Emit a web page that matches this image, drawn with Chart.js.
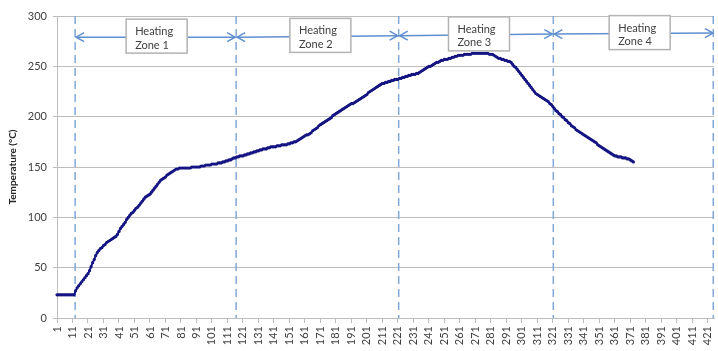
<!DOCTYPE html>
<html>
<head>
<meta charset="utf-8">
<script src="https://cdn.jsdelivr.net/npm/chart.js@4.4.1/dist/chart.umd.min.js"></script>
<style>
  body { margin: 0; background: #ffffff; }
</style>
</head>
<body>
<canvas id="lineChart" width="718" height="351"></canvas>
<script>
// x categories (sample number) and y tick values
const categories = Array.from({length: 425}, (_, i) => String(i + 1));
const yTicks = [0, 50, 100, 150, 200, 250, 300];

// temperature readings (°C)
const temperatures = [
  23, 23, 23, 23, 23, 23, 23, 23, 23, 23,
  23, 23, 27, 30, 32, 34, 36, 38, 40, 42,
  44, 47, 51, 55, 58, 62, 65, 67, 69, 70,
  72, 73, 75, 76, 77, 78, 79, 80, 81, 83,
  86, 89, 91, 93, 95, 98, 100, 102, 104, 105,
  107, 109, 110, 112, 114, 116, 118, 120, 121, 122,
  123, 125, 127, 129, 131, 133, 135, 137, 138, 139,
  140, 142, 143, 144, 145, 146, 147, 148, 148, 149,
  149, 149, 149, 149, 149, 149, 149, 150, 150, 150,
  150, 150, 150, 151, 151, 151, 152, 152, 152, 152,
  153, 153, 153, 153, 154, 154, 154, 155, 155, 156,
  156, 157, 157, 158, 159, 159, 160, 160, 161, 161,
  161, 162, 162, 163, 163, 164, 164, 165, 165, 166,
  166, 167, 167, 168, 168, 168, 169, 169, 170, 170,
  170, 170, 171, 171, 171, 172, 172, 172, 172, 173,
  173, 174, 174, 175, 175, 176, 177, 178, 179, 180,
  181, 182, 182, 183, 184, 186, 187, 188, 189, 191,
  192, 193, 194, 195, 196, 197, 198, 199, 201, 202,
  203, 204, 205, 206, 207, 208, 209, 210, 211, 212,
  213, 213, 214, 215, 216, 217, 218, 219, 220, 221,
  222, 224, 225, 226, 227, 228, 229, 230, 231, 232,
  233, 233, 234, 234, 235, 235, 236, 236, 237, 237,
  237, 238, 238, 239, 239, 240, 240, 241, 241, 242,
  242, 242, 243, 243, 244, 245, 246, 247, 248, 249,
  250, 250, 251, 252, 253, 254, 254, 255, 256, 256,
  257, 257, 257, 258, 258, 259, 259, 260, 260, 261,
  261, 261, 261, 262, 262, 262, 262, 262, 263, 263,
  263, 263, 263, 263, 263, 263, 263, 263, 263, 262,
  262, 262, 261, 260, 259, 258, 258, 257, 257, 256,
  256, 255, 255, 254, 252, 250, 249, 247, 245, 243,
  241, 239, 237, 235, 233, 231, 229, 227, 225, 223,
  222, 221, 220, 219, 218, 217, 216, 215, 213, 212,
  210, 208, 206, 205, 203, 202, 200, 199, 197, 196,
  194, 193, 191, 190, 189, 187, 186, 185, 184, 183,
  182, 181, 180, 179, 178, 177, 176, 175, 174, 172,
  171, 170, 169, 168, 167, 166, 165, 164, 163, 162,
  161, 161, 160, 160, 160, 159, 159, 159, 158, 158,
  157, 156, 155
];

// heating zones: boundaries (sample number) and arrow heights (°C)
const zoneNames = ['Zone 1', 'Zone 2', 'Zone 3', 'Zone 4'];
const zoneEdges = [12.7, 116.6, 221.5, 321.3, 425];
const zoneArrowStart = [279.0, 279.0, 280.5, 282.0];
const zoneArrowEnd = [279.0, 280.5, 282.0, 283.0];
const zoneBoxShift = [1, 3, 3, 6];

window.onload = main;

function main(){
    Chart.defaults.font.family = 'Lato, "Open Sans", sans-serif';
    Chart.defaults.font.size = 11;
    Chart.defaults.color = '#404040';
    lineChart();
}

function arrowHead(ctx, x, y, dir){
    ctx.beginPath();
    ctx.moveTo(x - dir * 8, y - 4.5);
    ctx.lineTo(x, y);
    ctx.lineTo(x - dir * 8, y + 4.5);
    ctx.stroke();
}

const zonePlugin = {
    id: 'heatingZones',
    beforeDatasetsDraw(chart){
        const {ctx, chartArea, scales: {x}} = chart;
        ctx.save();
        ctx.strokeStyle = '#80a7d6';
        ctx.lineWidth = 1.5;
        ctx.setLineDash([8, 5]);
        zoneEdges.forEach(edge => {
            const px = Math.min(x.getPixelForValue(edge - 1), chartArea.right - 0.75);
            ctx.beginPath();
            ctx.moveTo(px, chartArea.top);
            ctx.lineTo(px, chartArea.bottom);
            ctx.stroke();
        });
        ctx.restore();
    },
    afterDatasetsDraw(chart){
        const {ctx, chartArea, scales: {x, y}} = chart;
        ctx.save();
        zoneNames.forEach((name, i) => {
            const x0 = x.getPixelForValue(zoneEdges[i] - 1) + 1;
            const x1 = Math.min(x.getPixelForValue(zoneEdges[i + 1] - 1), chartArea.right) - 1;
            const y0 = y.getPixelForValue(zoneArrowStart[i]);
            const y1 = y.getPixelForValue(zoneArrowEnd[i]);

            // arrow
            ctx.strokeStyle = '#5f8fcf';
            ctx.lineWidth = 1.5;
            ctx.beginPath();
            ctx.moveTo(x0, y0);
            ctx.lineTo(x1, y1);
            ctx.stroke();
            arrowHead(ctx, x0, y0, -1);
            arrowHead(ctx, x1, y1, 1);

            // label box
            const bw = 61, bh = 34;
            const bx = (x0 + x1) / 2 - bw / 2 + zoneBoxShift[i];
            const by = (y0 + y1) / 2 - 18;
            ctx.fillStyle = '#ffffff';
            ctx.fillRect(bx, by, bw, bh);
            ctx.strokeStyle = '#b3b3b3';
            ctx.lineWidth = 1.5;
            ctx.strokeRect(bx, by, bw, bh);

            ctx.fillStyle = '#404040';
            ctx.font = '11px Lato, "Open Sans", sans-serif';
            ctx.textAlign = 'left';
            ctx.textBaseline = 'middle';
            ctx.fillText('Heating', bx + 9, by + 12.5);
            ctx.fillText(name, bx + 9, by + 26);
        });
        ctx.restore();
    }
};

function lineChart(){
    var canvas = document.getElementById('lineChart').getContext('2d');

    var chartData = {
        labels: categories,
        datasets: [
            {
                data: temperatures,
                borderColor: '#141482',
                backgroundColor: '#141482',
                borderWidth: 2,
                pointRadius: 1.6,
                pointBorderWidth: 0,
                pointBackgroundColor: '#141482',
                tension: 0,
                fill: false
            }
        ]
    };

    var chartOptions = {
        responsive: false,
        animation: false,
        layout: { padding: { top: 16, right: 0, left: 0, bottom: 0 } },
        plugins: {
            legend: { display: false },
            tooltip: { enabled: false }
        },
        scales: {
            x: {
                type: 'category',
                offset: false,
                grid: {
                    drawOnChartArea: false,
                    tickLength: 5,
                    color: ctx => (ctx.index % 10 === 0 ? '#bdbdbd' : 'rgba(0,0,0,0)')
                },
                border: { color: '#bdbdbd', width: 1 },
                ticks: {
                    autoSkip: false,
                    minRotation: 90,
                    maxRotation: 90,
                    padding: 3,
                    callback: function(value, index){
                        return index % 10 === 0 ? categories[index] : '';
                    }
                },
                afterFit: function(scale){
                    scale.height = 33;
                    scale.paddingLeft = 0;
                    scale.paddingRight = 0;
                }
            },
            y: {
                min: 0,
                max: 300,
                afterBuildTicks: function(scale){
                    scale.ticks = yTicks.map(v => ({value: v}));
                },
                grid: { color: '#bdbdbd', lineWidth: 1, tickLength: 4 },
                border: { color: '#bdbdbd', width: 1 },
                ticks: { padding: 6 },
                title: {
                    display: true,
                    text: 'Temperature (°C)',
                    font: { size: 10, weight: 'bold' },
                    color: '#262626',
                    padding: { top: 7, bottom: 0 }
                },
                afterFit: function(scale){
                    scale.width = 57;
                }
            }
        }
    };

    new Chart(canvas, {
        type: 'line',
        data: chartData,
        options: chartOptions,
        plugins: [zonePlugin]
    });
}
</script>
</body>
</html>
